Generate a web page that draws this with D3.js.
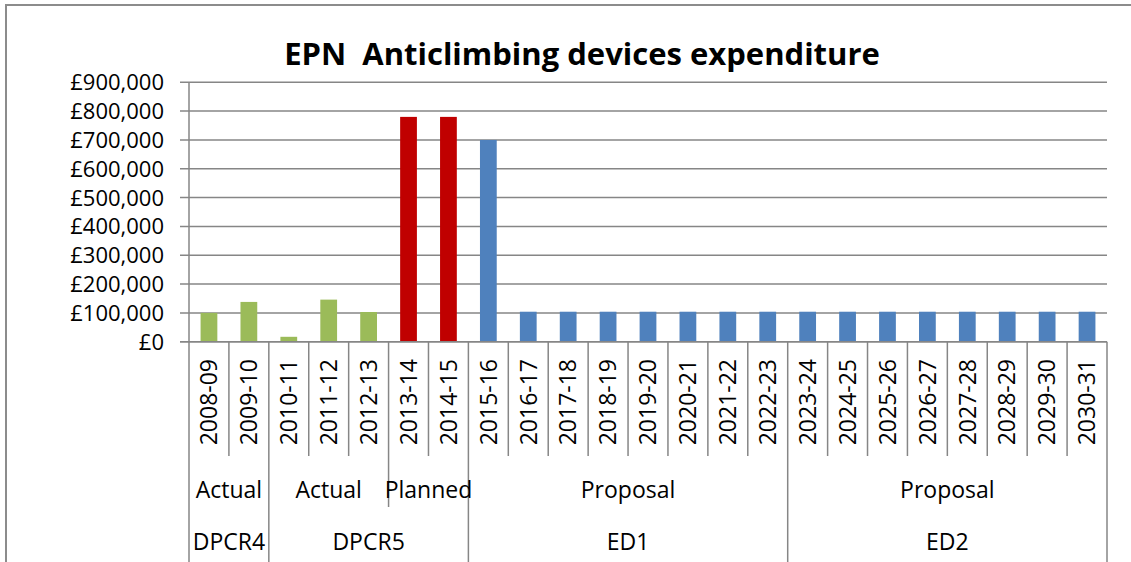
<!DOCTYPE html>
<html>
<head>
<meta charset="utf-8">
<script src="https://cdn.jsdelivr.net/npm/d3@7"></script>
<style>
  body { margin: 0; background: #fff; }
  text { font-family: "Open Sans", "Liberation Sans", sans-serif; fill: #000; }
</style>
</head>
<body>
<div id="chart"></div>
<script>
const years = ["2008-09", "2009-10", "2010-11", "2011-12", "2012-13", "2013-14", "2014-15",
  "2015-16", "2016-17", "2017-18", "2018-19", "2019-20", "2020-21", "2021-22", "2022-23",
  "2023-24", "2024-25", "2025-26", "2026-27", "2027-28", "2028-29", "2029-30", "2030-31"];
const spend = [100000, 138000, 17000, 146000, 103000, 780000, 780000,
  700000, 104000, 104000, 104000, 104000, 104000, 104000, 104000,
  104000, 104000, 104000, 104000, 104000, 104000, 104000, 104000];
const status = ["Actual", "Actual", "Actual", "Actual", "Actual", "Planned", "Planned",
  "Proposal", "Proposal", "Proposal", "Proposal", "Proposal", "Proposal", "Proposal", "Proposal",
  "Proposal", "Proposal", "Proposal", "Proposal", "Proposal", "Proposal", "Proposal", "Proposal"];
const period = ["DPCR4", "DPCR4", "DPCR5", "DPCR5", "DPCR5", "DPCR5", "DPCR5",
  "ED1", "ED1", "ED1", "ED1", "ED1", "ED1", "ED1", "ED1",
  "ED2", "ED2", "ED2", "ED2", "ED2", "ED2", "ED2", "ED2"];
const yTicks = [0, 100000, 200000, 300000, 400000, 500000, 600000, 700000, 800000, 900000];

const width = 1131, height = 562;
const plotLeft = 189, plotRight = 1107, plotTop = 82.3, axisY = 341.7;

const svg = d3.select("#chart").append("svg")
  .attr("width", width)
  .attr("height", height);

// outer chart frame (runs off the right and bottom of the picture)
svg.append("path")
  .attr("d", `M6,${height + 2} V5 H${width + 2}`)
  .attr("fill", "none")
  .attr("stroke", "#8c8c8c")
  .attr("stroke-width", 2);

svg.append("text")
  .attr("x", 582)
  .attr("y", 65)
  .attr("text-anchor", "middle")
  .style("font-size", "31px")
  .style("font-weight", "bold")
  .style("white-space", "pre")
  .text("EPN  Anticlimbing devices expenditure");

const x = d3.scaleBand().domain(years).range([plotLeft, plotRight]);
const xBar = d3.scaleBand().domain(years).range([plotLeft, plotRight])
  .paddingInner(0.58).paddingOuter(0.29);
const y = d3.scaleLinear().domain([0, 900000]).range([axisY, plotTop]);

const fmt = d => "£" + d3.format(",")(d);

// gridlines
svg.append("g")
  .selectAll("line")
  .data(yTicks)
  .join("line")
    .attr("x1", plotLeft - 9)
    .attr("x2", plotRight)
    .attr("y1", d => y(d))
    .attr("y2", d => y(d))
    .attr("stroke", "#868686")
    .attr("stroke-width", 1.5);

svg.append("g")
  .selectAll("text")
  .data(yTicks)
  .join("text")
    .attr("x", 164)
    .attr("y", d => y(d))
    .attr("dy", "0.36em")
    .attr("text-anchor", "end")
    .style("font-size", "22px")
    .text(fmt);

const colour = {Actual: "#9bbb59", Planned: "#c00000", Proposal: "#4f81bd"};

svg.append("g")
  .selectAll("rect")
  .data(years)
  .join("rect")
    .attr("x", d => xBar(d))
    .attr("width", xBar.bandwidth())
    .attr("y", (d, i) => y(spend[i]))
    .attr("height", (d, i) => y(0) - y(spend[i]))
    .attr("fill", (d, i) => colour[status[i]]);

// y axis line
svg.append("line")
  .attr("x1", plotLeft).attr("x2", plotLeft)
  .attr("y1", plotTop).attr("y2", axisY)
  .attr("stroke", "#868686").attr("stroke-width", 1.5);

// runs of consecutive categories sharing a key
function runs(keyFn) {
  const out = [];
  years.forEach((yr, i) => {
    const k = keyFn(i);
    const last = out[out.length - 1];
    if (last && last.key === k) last.end = i;
    else out.push({key: k, start: i, end: i});
  });
  return out;
}
const statusRuns = runs(i => period[i] + "|" + status[i]);
const periodRuns = runs(i => period[i]);

const level1Bottom = 456, level2Bottom = 507, level3Bottom = height;
const sepDepth = i => {
  if (i === 0 || i === years.length) return level3Bottom;
  if (periodRuns.some(r => r.start === i)) return level3Bottom;
  if (statusRuns.some(r => r.start === i)) return level2Bottom;
  return level1Bottom;
};
const edgeX = i => i === years.length ? plotRight : x(years[i]);

svg.append("g")
  .selectAll("line")
  .data(d3.range(years.length + 1))
  .join("line")
    .attr("x1", edgeX).attr("x2", edgeX)
    .attr("y1", axisY)
    .attr("y2", sepDepth)
    .attr("stroke", "#868686")
    .attr("stroke-width", 1.5);

// x axis line
svg.append("line")
  .attr("x1", plotLeft - 9).attr("x2", plotRight)
  .attr("y1", axisY).attr("y2", axisY)
  .attr("stroke", "#868686").attr("stroke-width", 1.5);

// year labels
svg.append("g")
  .selectAll("text")
  .data(years)
  .join("text")
    .attr("transform", d => `translate(${x(d) + x.bandwidth() / 2},359) rotate(-90)`)
    .attr("dy", "0.36em")
    .attr("text-anchor", "end")
    .style("font-size", "23px")
    .text(d => d);

const midX = r => (edgeX(r.start) + edgeX(r.end + 1)) / 2;

svg.append("g")
  .selectAll("text")
  .data(statusRuns)
  .join("text")
    .attr("x", midX)
    .attr("y", 490)
    .attr("dy", "0.36em")
    .attr("text-anchor", "middle")
    .style("font-size", "23px")
    .text(d => d.key.split("|")[1]);

svg.append("g")
  .selectAll("text")
  .data(periodRuns)
  .join("text")
    .attr("x", midX)
    .attr("y", 541.5)
    .attr("dy", "0.36em")
    .attr("text-anchor", "middle")
    .style("font-size", "23px")
    .text(d => d.key);
</script>
</body>
</html>
